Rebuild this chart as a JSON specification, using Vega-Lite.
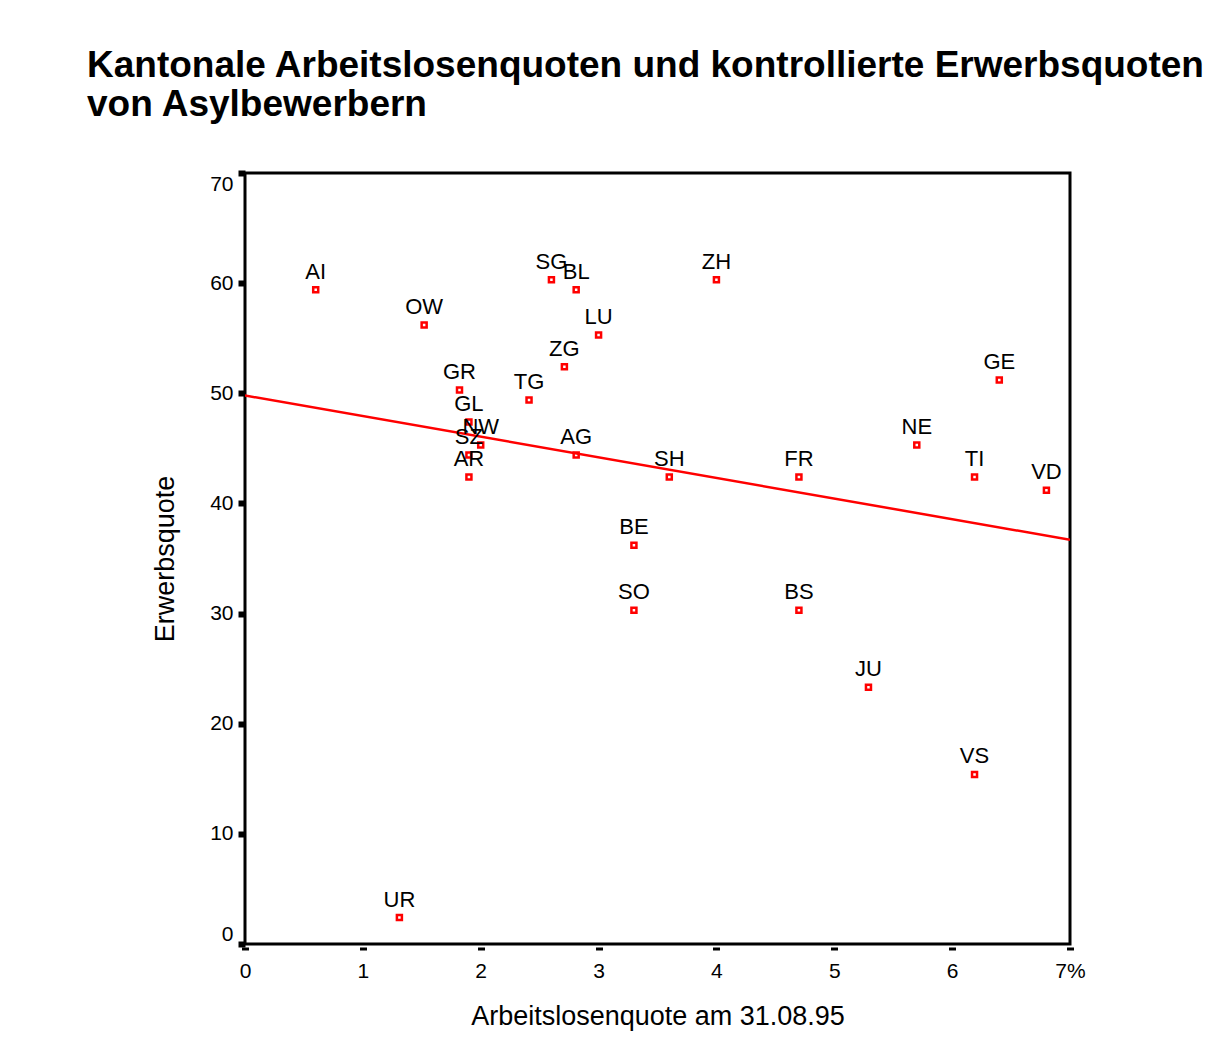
{
  "$schema": "https://vega.github.io/schema/vega-lite/v6.json",
  "autosize": {"type": "none"},
  "width": 825,
  "height": 771,
  "padding": {"left": 245, "top": 173, "right": 140, "bottom": 103},
  "background": "white",
  "title": {
    "text": ["Kantonale Arbeitslosenquoten und kontrollierte Erwerbsquoten", "von Asylbewerbern"],
    "anchor": "start",
    "frame": "group",
    "font": "Liberation Sans",
    "fontSize": 37,
    "fontWeight": "bold",
    "color": "black",
    "lineHeight": 39,
    "dx": -158,
    "dy": -46,
    "offset": 0
  },
  "datasets": {
    "kantone": [
      {"kanton": "AI", "alq": 0.60, "ewq": 59.4},
      {"kanton": "OW", "alq": 1.52, "ewq": 56.2},
      {"kanton": "SG", "alq": 2.60, "ewq": 60.3},
      {"kanton": "BL", "alq": 2.81, "ewq": 59.4},
      {"kanton": "ZH", "alq": 4.00, "ewq": 60.3},
      {"kanton": "LU", "alq": 3.00, "ewq": 55.3},
      {"kanton": "ZG", "alq": 2.71, "ewq": 52.4},
      {"kanton": "GE", "alq": 6.40, "ewq": 51.2},
      {"kanton": "GR", "alq": 1.82, "ewq": 50.3},
      {"kanton": "TG", "alq": 2.41, "ewq": 49.4},
      {"kanton": "GL", "alq": 1.90, "ewq": 47.4},
      {"kanton": "NW", "alq": 2.00, "ewq": 45.3},
      {"kanton": "SZ", "alq": 1.90, "ewq": 44.4},
      {"kanton": "AR", "alq": 1.90, "ewq": 42.4},
      {"kanton": "AG", "alq": 2.81, "ewq": 44.4},
      {"kanton": "NE", "alq": 5.70, "ewq": 45.3},
      {"kanton": "SH", "alq": 3.60, "ewq": 42.4},
      {"kanton": "FR", "alq": 4.70, "ewq": 42.4},
      {"kanton": "TI", "alq": 6.19, "ewq": 42.4},
      {"kanton": "VD", "alq": 6.80, "ewq": 41.2},
      {"kanton": "BE", "alq": 3.30, "ewq": 36.2},
      {"kanton": "SO", "alq": 3.30, "ewq": 30.3},
      {"kanton": "BS", "alq": 4.70, "ewq": 30.3},
      {"kanton": "JU", "alq": 5.29, "ewq": 23.3},
      {"kanton": "VS", "alq": 6.19, "ewq": 15.4},
      {"kanton": "UR", "alq": 1.31, "ewq": 2.4}
    ],
    "fit": [
      {"alq": 0, "ewq": 49.8},
      {"alq": 7, "ewq": 36.7}
    ],
    "note": [
      {"label": "Rsq = 0.0564"}
    ]
  },
  "config": {
    "view": {"stroke": "black", "strokeWidth": 3},
    "font": "Liberation Sans"
  },
  "encoding": {
    "x": {
      "field": "alq",
      "type": "quantitative",
      "scale": {"domain": [0, 7], "nice": false, "zero": false},
      "axis": {
        "title": "Arbeitslosenquote am 31.08.95",
        "titleFont": "Liberation Sans",
        "titleFontSize": 27,
        "titleFontWeight": "normal",
        "titleColor": "black",
        "titlePadding": 22,
        "values": [0, 1, 2, 3, 4, 5, 6, 7],
        "labelExpr": "datum.value == 7 ? '7%' : datum.label",
        "labelFontSize": 21,
        "labelColor": "black",
        "labelFlush": false,
        "labelPadding": 10,
        "grid": false,
        "domain": false,
        "offset": 3,
        "tickColor": "black",
        "tickSize": 3,
        "tickWidth": 7
      }
    },
    "y": {
      "field": "ewq",
      "type": "quantitative",
      "scale": {"domain": [0, 70], "nice": false, "zero": false},
      "axis": {
        "title": "Erwerbsquote",
        "titleFont": "Liberation Sans",
        "titleFontSize": 27,
        "titleFontWeight": "normal",
        "titleColor": "black",
        "titlePadding": 30,
        "values": [0, 10, 20, 30, 40, 50, 60, 70],
        "labelFontSize": 21,
        "labelColor": "black",
        "labelFlush": true,
        "labelPadding": 5,
        "grid": false,
        "domain": false,
        "tickColor": "black",
        "tickSize": 7,
        "tickWidth": 6
      }
    }
  },
  "layer": [
    {
      "data": {"name": "fit"},
      "mark": {"type": "line", "color": "#ff0000", "strokeWidth": 2.5, "clip": true}
    },
    {
      "data": {"name": "kantone"},
      "mark": {"type": "point", "shape": "square", "filled": false, "color": "#ff0000", "strokeWidth": 2.5, "size": 25, "opacity": 1}
    },
    {
      "data": {"name": "kantone"},
      "mark": {"type": "text", "fontSize": 22, "dy": -11, "baseline": "alphabetic", "align": "center", "color": "black"},
      "encoding": {"text": {"field": "kanton"}}
    },
    {
      "data": {"name": "note"},
      "mark": {"type": "text", "fontSize": 22, "fontWeight": "bold", "align": "right", "baseline": "alphabetic", "color": "black"},
      "encoding": {
        "x": {"datum": 6.77, "type": "quantitative"},
        "y": {"datum": 2.94, "type": "quantitative"},
        "text": {"field": "label"}
      }
    }
  ]
}
